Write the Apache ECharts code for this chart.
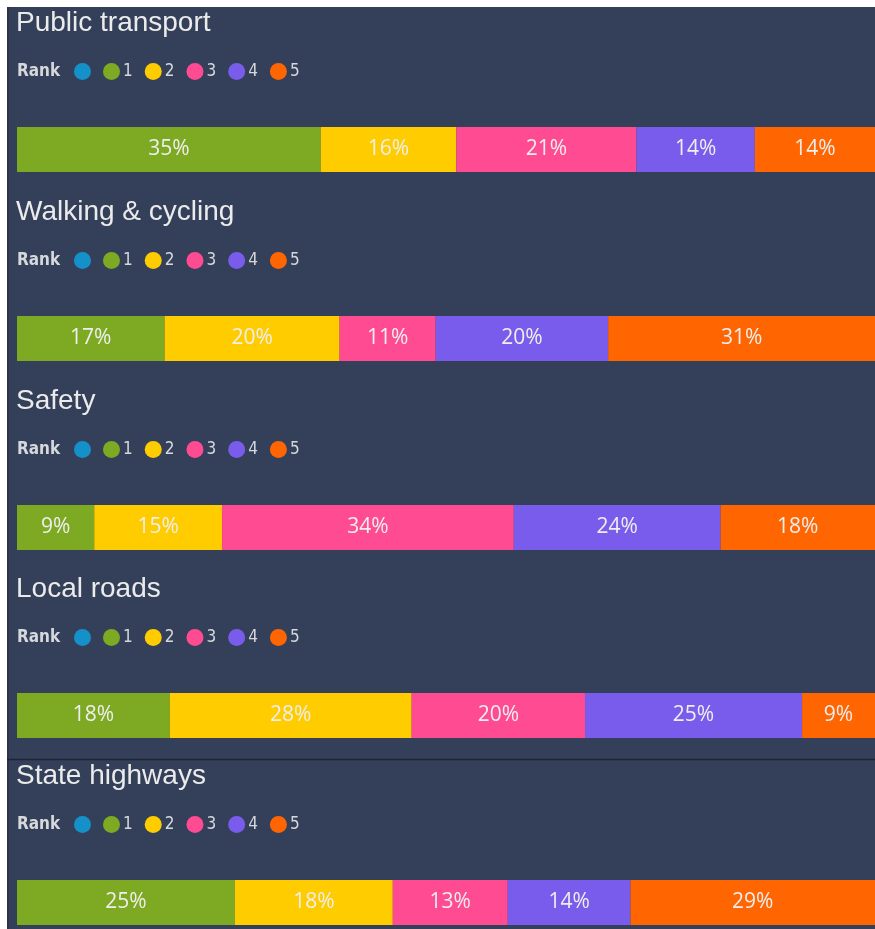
<!DOCTYPE html>
<html>
<head>
<meta charset="utf-8">
<script src="https://cdn.jsdelivr.net/npm/echarts@6/dist/echarts.min.js"></script>
<style>
  html, body { margin: 0; padding: 0; background: #fff; }
  #chart { width: 875px; height: 929px; }
</style>
</head>
<body>
<div id="chart"></div>
<script>
  // panels (one stacked bar each)
  const panels = ['Public transport', 'Walking & cycling', 'Safety', 'Local roads', 'State highways'];
  // legend entries, 'blank' is the unnamed rank
  const ranks = ['blank', '1', '2', '3', '4', '5'];
  const rankColors = ['#1491C9', '#7DAA22', '#FFCC00', '#FF4B92', '#795CEB', '#FF6500'];

  // share of answers per rank, one value per panel
  const rankBlank = [0, 0, 0, 0, 0];
  const rank1 = [35.4, 17.2, 9.0, 17.8, 25.4];
  const rank2 = [15.8, 20.4, 14.9, 28.2, 18.4];
  const rank3 = [21.0, 11.2, 34.0, 20.2, 13.4];
  const rank4 = [13.8, 20.1, 24.1, 25.3, 14.3];
  const rank5 = [14.0, 31.1, 18.0, 8.5, 28.5];
  const rankValues = [rankBlank, rank1, rank2, rank3, rank4, rank5];

  // vertical offset of each panel
  const panelTop = [0, 189, 378, 566, 753];

  const chart = echarts.init(document.getElementById('chart'));

  const titles = [], legends = [], grids = [], xAxes = [], yAxes = [], series = [];
  panels.forEach(function (name, i) {
    const top = panelTop[i];
    titles.push({
      text: name, left: 16, top: top + 9, padding: 0,
      textStyle: { color: '#ebebeb', fontSize: 28, fontWeight: 'normal', fontFamily: 'Liberation Sans' }
    });
    titles.push({
      text: 'Rank', left: 17, top: top + 63, padding: 0,
      textStyle: { color: '#d6d8dc', fontSize: 17, fontWeight: 'bold', fontFamily: 'DejaVu Sans Condensed' }
    });
    legends.push({
      data: ranks, left: 74, top: top + 63, padding: 0,
      icon: 'circle', itemWidth: 17, itemHeight: 17, itemGap: 12,
      selectedMode: false,
      formatter: function (n) { return n === 'blank' ? '' : n; },
      textStyle: { color: '#d6d8dc', fontSize: 17, fontFamily: 'DejaVu Sans Condensed', padding: [0, 0, 0, -2] }
    });
    grids.push({ left: 17, right: 0, top: top + 127, height: 45 });
    xAxes.push({ gridIndex: i, type: 'value', min: 0, max: 100, show: false });
    yAxes.push({ gridIndex: i, type: 'category', data: [name], show: false });
    ranks.forEach(function (r, k) {
      series.push({
        name: r, type: 'bar', stack: 'p' + i,
        xAxisIndex: i, yAxisIndex: i, barWidth: 45,
        itemStyle: { color: rankColors[k] },
        label: {
          show: rankValues[k][i] > 0, position: 'inside',
          color: '#eeeeee', fontSize: 21, fontFamily: 'Open Sans',
          formatter: function (p) { return Math.round(p.value) + '%'; }
        },
        data: [rankValues[k][i]]
      });
    });
  });

  chart.setOption({
    backgroundColor: '#fff',
    animation: false,
    graphic: [
      { type: 'rect', z: -100, shape: { x: 7, y: 7, width: 868, height: 922 }, style: { fill: '#344059' } },
      { type: 'rect', z: -99, shape: { x: 7, y: 7, width: 2, height: 922 }, style: { fill: '#2a3349' } },
      { type: 'line', z: -99, shape: { x1: 7, y1: 759.5, x2: 875, y2: 759.5 }, style: { stroke: '#1d2435', lineWidth: 1.5 } }
    ],
    title: titles,
    legend: legends,
    grid: grids,
    xAxis: xAxes,
    yAxis: yAxes,
    series: series
  });
</script>
</body>
</html>
